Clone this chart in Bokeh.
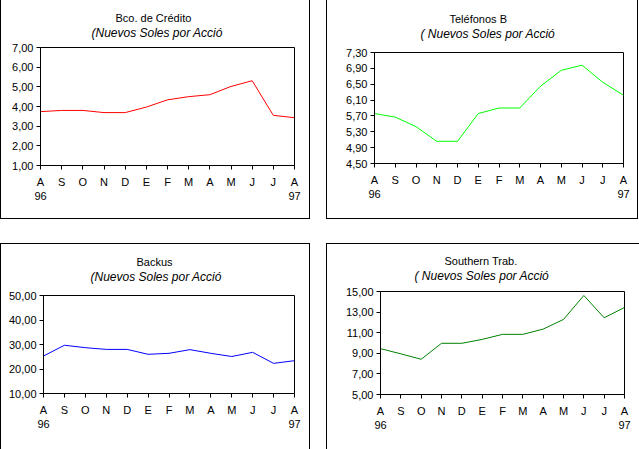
from bokeh.plotting import figure
from bokeh.models import FixedTicker, Range1d, Spacer, Title
from bokeh.layouts import column, row
from bokeh.embed import file_html
from bokeh.resources import INLINE

# ---- data ----
months = ["A", "S", "O", "N", "D", "E", "F", "M", "A", "M", "J", "J", "A"]
years = {0: "96", 12: "97"}
x_idx = list(range(len(months)))

bco = [3.74, 3.80, 3.80, 3.69, 3.69, 3.97, 4.34, 4.50, 4.60, 5.02, 5.31, 3.55, 3.43]
tel = [5.76, 5.67, 5.43, 5.06, 5.06, 5.76, 5.90, 5.90, 6.45, 6.85, 6.98, 6.55, 6.22]
bac = [25.3, 29.7, 28.7, 28.0, 28.0, 26.0, 26.4, 27.9, 26.4, 25.1, 26.8, 22.3, 23.4]
sou = [9.45, 8.95, 8.42, 9.97, 9.97, 10.35, 10.84, 10.84, 11.35, 12.29, 14.61, 12.45, 13.45]

y_bco = [1, 2, 3, 4, 5, 6, 7]
y_tel = [4.5, 4.9, 5.3, 5.7, 6.1, 6.5, 6.9, 7.3]
y_bac = [10, 20, 30, 40, 50]
y_sou = [5, 7, 9, 11, 13, 15]

titles = ["Bco. de Crédito", "Teléfonos B", "Backus", "Southern Trab."]
subtitles = ["(Nuevos Soles por Acció", "( Nuevos Soles por Acció",
             "(Nuevos Soles por Acció", "( Nuevos Soles por Acció"]

FONT = "Liberation Sans"


def fmt(v):
    return f"{v:.2f}".replace(".", ",")


def make(vals, color, yticks, title, subtitle, w, h, bl, br, bt, bb, toff, soff,
         gap, xstand):
    p = figure(width=w, height=h, x_range=Range1d(0, 12),
               y_range=Range1d(yticks[0], yticks[-1]),
               output_backend="svg", toolbar_location=None, tools="",
               min_border_left=bl, min_border_right=br,
               min_border_top=bt, min_border_bottom=bb)
    p.xgrid.visible = False
    p.ygrid.visible = False
    p.outline_line_color = "black"
    p.outline_line_alpha = 1
    p.outline_line_width = 1
    p.background_fill_color = "white"
    p.border_fill_color = "white"

    xa = p.xaxis[0]
    xa.ticker = FixedTicker(ticks=x_idx)
    ov = {}
    for i, m in zip(x_idx, months):
        ov[i] = m + ("\n" + years[i] if i in years else "")
    xa.major_label_overrides = ov
    ya = p.yaxis[0]
    ya.ticker = FixedTicker(ticks=yticks)
    ya.major_label_overrides = {v: fmt(v) for v in yticks}
    for ax in (xa, ya):
        ax.axis_line_color = "black"
        ax.major_tick_line_color = "black"
        ax.major_tick_in = 0
        ax.major_tick_out = 4
        ax.minor_tick_line_color = None
        ax.major_label_text_font = FONT
        ax.major_label_text_font_size = "11px"
        ax.major_label_text_color = "black"
    xa.major_label_standoff = xstand
    ya.major_label_standoff = 3

    p.line(x_idx, vals, line_color=color, line_width=1)

    # empty spacer panel between frame and subtitle
    p.add_layout(Title(text=" ", text_font_size="1px", standoff=gap), "above")
    p.add_layout(Title(text=subtitle, align="left", offset=soff, standoff=0,
                       text_font=FONT, text_font_size="12px",
                       text_font_style="italic", text_color="black"), "above")
    p.add_layout(Title(text=title, align="left", offset=toff, standoff=0,
                       text_font=FONT, text_font_size="11px",
                       text_font_style="normal", text_color="black"), "above")
    return p


def vline(h):
    return Spacer(width=1, height=h, styles={"background-color": "black"})


def hline(w):
    return Spacer(width=w, height=1, styles={"background-color": "black"})


p1 = make(bco, "#FF0000", y_bco, titles[0], subtitles[0],
          308, 218, 39, 15, 47, 53, 75, 51, 5, 6)
p2 = make(tel, "#00FF00", y_tel, titles[1], subtitles[1],
          310, 218, 47, 14, 52, 55, 75, 46, 9, 6)
p3 = make(bac, "#0000FF", y_bac, titles[2], subtitles[2],
          308, 205, 42, 15, 51, 56, 93, 47, 9, 6)
p4 = make(sou, "#008000", y_sou, titles[3], subtitles[3],
          312, 205, 53, 15, 47, 55, 64, 34, 6, 6)

top = row(vline(219), column(p1, hline(308)), vline(219),
          Spacer(width=16, height=219),
          vline(219), column(p2, hline(310)), vline(219))
bottom = row(vline(206), column(hline(308), p3), vline(206),
             Spacer(width=16, height=206),
             vline(206), column(hline(312), p4))
layout = column(top, Spacer(width=638, height=24), bottom)

open("out.html", "w").write(file_html(layout, INLINE))
